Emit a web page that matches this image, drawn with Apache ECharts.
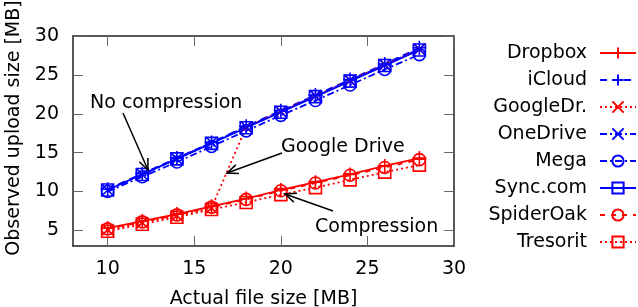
<!DOCTYPE html>
<html>
<head>
<meta charset="utf-8">
<script src="https://cdn.jsdelivr.net/npm/echarts@6/dist/echarts.min.js"></script>
<style>
  html, body { margin: 0; padding: 0; background: #fff; }
  #main { width: 638px; height: 307px; }
</style>
</head>
<body>
<div id="main"></div>
<script>
// file sizes [MB]
const fileSizes = [10, 12, 14, 16, 18, 20, 22, 24, 26, 28]
// observed upload sizes [MB]
const dropbox   = [5.3, 6.2, 7.1, 8.1, 9.1, 10.2, 11.2, 12.2, 13.3, 14.3]
const iCloud    = [10.3, 12.3, 14.3, 16.3, 18.4, 20.4, 22.4, 24.4, 26.4, 28.5]
const googleDr  = [5.1, 6.0, 6.9, 7.9, 18.3, 20.3, 22.3, 24.3, 26.3, 28.3]
const oneDrive  = [10.2, 12.2, 14.2, 16.3, 18.3, 20.3, 22.3, 24.3, 26.3, 28.3]
const mega      = [10.0, 11.9, 13.8, 15.8, 17.8, 19.8, 21.7, 23.7, 25.7, 27.6]
const syncCom   = [10.2, 12.2, 14.2, 16.2, 18.2, 20.2, 22.2, 24.2, 26.2, 28.2]
const spiderOak = [5.2, 6.1, 7.0, 8.0, 9.0, 10.1, 11.1, 12.1, 13.1, 14.1]
const tresorit  = [4.9, 5.8, 6.7, 7.7, 8.6, 9.6, 10.5, 11.5, 12.5, 13.4]

const xTicks = [10, 15, 20, 25, 30]
const yTicks = [5, 10, 15, 20, 25, 30]

const RED = '#ff0000'
const BLUE = '#0000ff'
const FONT = 'DejaVu Sans'

const PLUS = 'path://M5,0L5,10M0,5L10,5'
const CROSS = 'path://M0,0L10,10M0,10L10,0'

const pairs = ys => fileSizes.map((x, i) => [x, ys[i]])

const mkSeries = (name, ys, color, lineType, symbol, size) => ({
  name: name,
  type: 'line',
  data: pairs(ys),
  symbol: symbol,
  symbolSize: size,
  showSymbol: true,
  lineStyle: { color: color, width: 1.8, type: lineType },
  itemStyle: { color: 'rgba(0,0,0,0)', borderColor: color, borderWidth: 1.6 },
  emphasis: { disabled: true },
  animation: false
})

const seriesList = [
  mkSeries('Dropbox', dropbox, RED, 'solid', PLUS, 14),
  mkSeries('iCloud', iCloud, BLUE, [7, 5], PLUS, 14),
  mkSeries('GoogleDr.', googleDr, RED, [2, 3], CROSS, 11),
  mkSeries('OneDrive', oneDrive, BLUE, [7, 3, 2, 3], CROSS, 11),
  mkSeries('Mega', mega, BLUE, [7, 3, 2, 3], 'circle', 12),
  mkSeries('Sync.com', syncCom, BLUE, 'solid', 'rect', 12),
  mkSeries('SpiderOak', spiderOak, RED, [5, 6], 'circle', 12),
  mkSeries('Tresorit', tresorit, RED, [2, 3], 'rect', 12)
]

// open V arrowhead helper (annotation only)
const arrow = (x1, y1, x2, y2) => {
  const a = Math.atan2(y2 - y1, x2 - x1)
  const L = 12, w = 0.4
  const p1 = [x2 - L * Math.cos(a - w), y2 - L * Math.sin(a - w)]
  const p2 = [x2 - L * Math.cos(a + w), y2 - L * Math.sin(a + w)]
  return [
    { type: 'line', shape: { x1: x1, y1: y1, x2: x2, y2: y2 }, style: { stroke: '#000', lineWidth: 1.5 }, z: 100 },
    { type: 'polyline', shape: { points: [p1, [x2, y2], p2] }, style: { stroke: '#000', lineWidth: 1.5, fill: null }, z: 100 }
  ]
}

const label = (text, x, y) => ({
  type: 'text', x: x, y: y, z: 100,
  style: { text: text, font: '19px "' + FONT + '"', fill: '#000', textVerticalAlign: 'middle' }
})

const axisBase = {
  type: 'value',
  axisLine: { show: true, lineStyle: { color: '#222', width: 1.5 } },
  axisTick: { show: true, inside: true, length: 10, lineStyle: { color: '#666', width: 1 } },
  splitLine: { show: false },
  axisLabel: { show: false }
}

const option = {
  animation: false,
  textStyle: { fontFamily: FONT },
  grid: { left: 73, right: 184, top: 36, bottom: 61, containLabel: false, outerBoundsMode: 'none' },
  legend: {
    orient: 'vertical',
    right: 1,
    top: 43,
    padding: 0,
    align: 'right',
    itemWidth: 36,
    itemHeight: 14,
    itemGap: 7,
    selectedMode: false,
    textStyle: { fontSize: 19, color: '#000', fontFamily: FONT, lineHeight: 20, padding: [0, 8, 0, 0] },
    data: seriesList.map(s => s.name)
  },
  xAxis: [
    Object.assign({}, axisBase, {
      min: 8, max: 30, position: 'bottom',
      name: 'Actual file size [MB]', nameLocation: 'middle', nameGap: 44,
      nameTextStyle: { fontSize: 19, color: '#000', fontFamily: FONT },
      axisTick: Object.assign({}, axisBase.axisTick, { customValues: xTicks }),
      axisLabel: { show: true, customValues: xTicks, fontSize: 19, color: '#000', margin: 14 }
    }),
    Object.assign({}, axisBase, {
      min: 8, max: 30, position: 'top',
      axisTick: Object.assign({}, axisBase.axisTick, { customValues: xTicks })
    })
  ],
  yAxis: [
    Object.assign({}, axisBase, {
      min: 3, max: 30, position: 'left',
      name: 'Observed upload size [MB]', nameLocation: 'middle', nameGap: 43,
      nameTextStyle: { fontSize: 19, color: '#000', fontFamily: FONT, padding: [0, 0, 0, 26] },
      axisTick: Object.assign({}, axisBase.axisTick, { customValues: yTicks }),
      axisLabel: { show: true, customValues: yTicks, fontSize: 19, color: '#000', margin: 14 }
    }),
    Object.assign({}, axisBase, {
      min: 3, max: 30, position: 'right',
      axisTick: Object.assign({}, axisBase.axisTick, { customValues: yTicks })
    })
  ],
  series: seriesList,
  graphic: [
    label('No compression', 90, 103),
    ...arrow(123, 113, 148, 170),
    label('Google Drive', 281, 147),
    ...arrow(282, 153, 227, 173),
    label('Compression', 315, 227),
    ...arrow(333, 211, 285, 194)
  ]
}

const chart = echarts.init(document.getElementById('main'))
chart.setOption(option)
</script>
</body>
</html>
